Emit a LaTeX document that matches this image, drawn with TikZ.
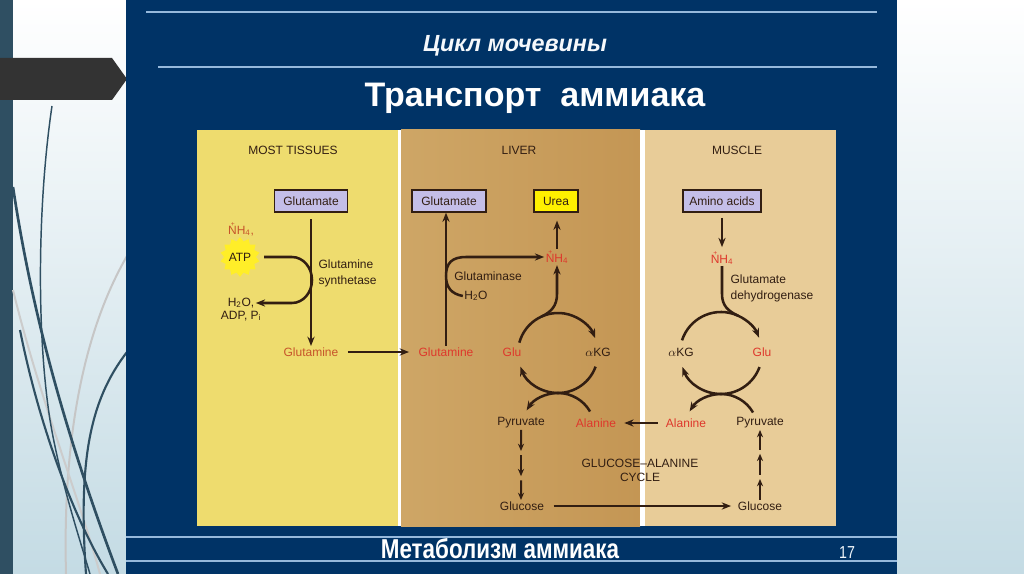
\documentclass[tikz,border=0pt]{standalone}
\usepackage{fontspec}
\setmainfont{Liberation Sans}
\newfontfamily\narrowfont[FakeStretch=0.82]{Liberation Sans}
\usepackage{tikz}
\usetikzlibrary{shapes.geometric,arrows.meta,positioning,calc}

\definecolor{navy}{RGB}{0,51,102}
\definecolor{rulecol}{RGB}{150,185,220}
\definecolor{stripcol}{RGB}{47,79,98}
\definecolor{tagcol}{RGB}{51,51,51}
\definecolor{sidecol}{RGB}{196,219,228}
\definecolor{mtcol}{RGB}{238,220,110}
\definecolor{livcolA}{RGB}{206,166,102}
\definecolor{livcolB}{RGB}{196,150,84}
\definecolor{muscol}{RGB}{232,204,152}
\definecolor{ink}{RGB}{50,30,18}
\definecolor{redtxt}{RGB}{222,56,44}
\definecolor{orangetxt}{RGB}{198,84,42}
\definecolor{boxfill}{RGB}{196,190,232}
\definecolor{ureafill}{RGB}{255,240,0}
\definecolor{atpglow}{RGB}{255,238,40}

% ammonium ion with the charge set over the N
\newcommand{\ammon}{\makebox[0pt][l]{\raisebox{1.25ex}{\kern0.22em{\fontsize{5}{5}\selectfont +}}}NH\textsubscript{4}}

\begin{document}
\begin{tikzpicture}[x=0.75pt, y=-0.75pt, >={Stealth[length=7pt,width=5.4pt]},
  lbl/.style={font=\fontsize{9}{12}\selectfont, text=ink, inner sep=1pt},
  rlbl/.style={lbl, text=redtxt},
  mbox/.style={draw=ink, line width=0.9pt, fill=boxfill, minimum height=16.5pt,
    inner sep=2pt, font=\fontsize{9}{10}\selectfont, text=ink},
  flow/.style={draw=ink, line width=1.9pt},
  stepline/.style={flow, line width=1.5pt, -{Stealth[length=5.5pt,width=4.6pt]}}]
\useasboundingbox (0,0) rectangle (1024,574);

% slide background
\shade[top color=white, bottom color=sidecol] (0,0) rectangle (126,574);
\shade[top color=white, bottom color=sidecol] (897,0) rectangle (1024,574);
\fill[stripcol] (0,0) rectangle (13,574);
\draw[gray!45, line width=1.5pt] (127,256) .. controls (90,320) and (62,420) .. (66,574);
\draw[gray!40, line width=1.5pt] (13,290) .. controls (40,400) and (80,500) .. (100,574);
\draw[stripcol, line width=1.1pt] (52,106) .. controls (38,200) and (36,330) .. (50,420) .. controls (60,480) and (80,540) .. (90,574);
\draw[stripcol, line width=2pt] (13,187) .. controls (30,300) and (60,420) .. (118,574);
\draw[stripcol, line width=1.6pt] (20,330) .. controls (40,430) and (75,520) .. (108,574);
\draw[stripcol, line width=1.6pt] (127,352) .. controls (90,400) and (78,460) .. (86,574);
\fill[tagcol] (0,58) -- (112,58) -- (127,79) -- (112,100) -- (0,100) -- cycle;
\fill[navy] (126,0) rectangle (897,574);
\draw[rulecol, line width=1pt] (146,12) -- (877,12);
\draw[rulecol, line width=1pt] (158,67) -- (877,67);
\draw[rulecol, line width=1pt] (126,537) -- (897,537);
\draw[rulecol, line width=1pt] (126,561) -- (897,561);

% titles
\node[text=white!90!rulecol] (cycle) at (515,46) {\fontsize{17.5}{19}\selectfont\bfseries\itshape Цикл мочевины};
\node[text=white] (topic) at (535,98) {\fontsize{25.5}{28}\selectfont\bfseries Транспорт\ \ аммиака};
\node[text=white] (footer) at (500,549) {\narrowfont\fontsize{20.5}{22}\selectfont\bfseries Метаболизм аммиака};
\node[text=white!85!rulecol] (pnum) at (847,553) {\narrowfont\fontsize{13}{14}\selectfont 17};

% tissue panels
\fill[mtcol] (197,130) rectangle (398,526);
\fill[white] (398,130) rectangle (401,526);
\shade[left color=livcolA, right color=livcolB] (401,130) rectangle (640,526);
\fill[white] (640,130) rectangle (645,526);
\fill[muscol] (645,130) rectangle (836,526);

\node[lbl] (mtT) at (293,150) {MOST TISSUES};
\node[lbl] (lvT) at (519,150) {LIVER};
\node[lbl] (muT) at (737,150) {MUSCLE};

% most tissues
\node[mbox, minimum width=54.75pt] (gluMT) at (311,201) {Glutamate};
\node[lbl, text=orangetxt] (nhMT) at (241,229) {\ammon,};
\node[star, star points=14, star point ratio=1.25, fill=atpglow, minimum size=22pt,
  inner sep=0pt, font=\fontsize{9}{10}\selectfont, text=ink] (atp) at (240,257) {ATP};
\node[lbl, anchor=west, align=left] (synth) at (317,273) {Glutamine\\synthetase};
\node[lbl] (h2oMT) at (241,303) {H\textsubscript{2}O,};
\node[lbl] (adpMT) at (241,316) {ADP, P\textsubscript{i}};
\node[lbl, text=orangetxt] (glnMT) at (311,352) {Glutamine};

\draw[flow,->, shorten <=5pt] (gluMT) -- (glnMT);
\draw[flow,->, shorten <=6pt] (atp.east) -- (292,257)
  arc[start angle=270, end angle=450, x radius=20, y radius=23] -- (h2oMT.east);

% liver
\node[mbox, minimum width=55.5pt] (gluL) at (449,201) {Glutamate};
\node[mbox, fill=ureafill, minimum width=33pt] (ureaL) at (556,201) {Urea};
\node[rlbl] (nhL) at (557,257) {\ammon};
\node[lbl] (glnase) at (488,276) {Glutaminase};
\node[lbl] (h2oL) at (476,296) {H\textsubscript{2}O};
\node[rlbl] (glnL) at (446,352) {Glutamine};
\node[rlbl] (gluCL) at (512,352) {Glu};
\node[lbl] (akgL) at (598,352) {$\alpha$KG};
\node[lbl] (pyrL) at (521,423) {Pyruvate};
\node[rlbl] (alaL) at (596,423) {Alanine};
\node[lbl, align=center, font=\fontsize{9}{10.5}\selectfont] (gacT) at (640,470) {GLUCOSE--ALANINE\\CYCLE};
\node[lbl] (glcL) at (522,506) {Glucose};
\coordinate (cL) at (558,353);
\coordinate (cLl) at (558,430);

\draw[flow,->, shorten <=6pt, shorten >=6pt] (glnMT) -- (glnL);
\draw[flow,->] (glnL.north) -- (glnL.north |- gluL.south);
\draw[flow,->] (h2oL.west) .. controls (452,294) and (446,288) .. (446,276)
  .. controls (446,263) and (452,257) .. (466,257) -- (nhL.west);
\draw[flow,->, shorten >=6pt] (nhL.north) -- (nhL.north |- ureaL.south);
\draw[flow,->] ($(cL)+(195:40)$) arc[start angle=195, end angle=338, radius=40];
\draw[flow,->] ($(cL)+(245:40)$) .. controls +(10,-4.7) and (557,306) .. (557,294) -- (nhL.south);
\draw[flow,->] ($(cLl)+(330:37)$) arc[start angle=330, end angle=270, radius=37]
  arc[start angle=90, end angle=160, radius=40];
\draw[flow,->] ($(cL)+(20:40)$) arc[start angle=20, end angle=90, radius=40]
  arc[start angle=270, end angle=212, radius=37];
\foreach \a/\b in {0/0.3, 0.36/0.66, 0.72/1}
  \draw[stepline] ($(pyrL.south)!\a!(pyrL.south |- glcL.north)$) -- ($(pyrL.south)!\b!(pyrL.south |- glcL.north)$);

% muscle
\node[mbox, minimum width=58.5pt] (aminoM) at (722,201) {Amino acids};
\node[rlbl] (nhM) at (722,258) {\ammon};
\node[lbl, anchor=west, align=left] (gdh) at (729,288) {Glutamate\\dehydrogenase};
\node[lbl] (akgM) at (681,352) {$\alpha$KG};
\node[rlbl] (gluCM) at (762,352) {Glu};
\node[rlbl] (alaM) at (686,423) {Alanine};
\node[lbl] (pyrM) at (760,423) {Pyruvate};
\node[lbl] (glcM) at (760,506) {Glucose};
\coordinate (cM) at (721,353);
\coordinate (cMl) at (721,431);

\draw[flow,->, shorten <=4pt, shorten >=2pt] (aminoM) -- (nhM);
\draw[flow] (nhM.south) -- (722,294) .. controls (722,306) and (728.3,311.1) .. ($(cM)+(295:41)$);
\draw[flow,->] ($(cM)+(198:41)$) arc[start angle=198, end angle=338, radius=41];
\draw[flow,->] ($(cMl)+(330:37)$) arc[start angle=330, end angle=270, radius=37]
  arc[start angle=90, end angle=160, radius=41];
\draw[flow,->] ($(cM)+(20:41)$) arc[start angle=20, end angle=90, radius=41]
  arc[start angle=270, end angle=212, radius=37];
\foreach \a/\b in {0/0.3, 0.36/0.66, 0.72/1}
  \draw[stepline] ($(glcM.north)!\a!(glcM.north |- pyrM.south)$) -- ($(glcM.north)!\b!(glcM.north |- pyrM.south)$);

% between organs
\draw[flow,->, shorten <=5pt, shorten >=5pt] (alaM) -- (alaL);
\draw[flow,->, line width=1.3pt, shorten <=6pt, shorten >=4pt] (glcL) -- (glcM);
\end{tikzpicture}
\end{document}
